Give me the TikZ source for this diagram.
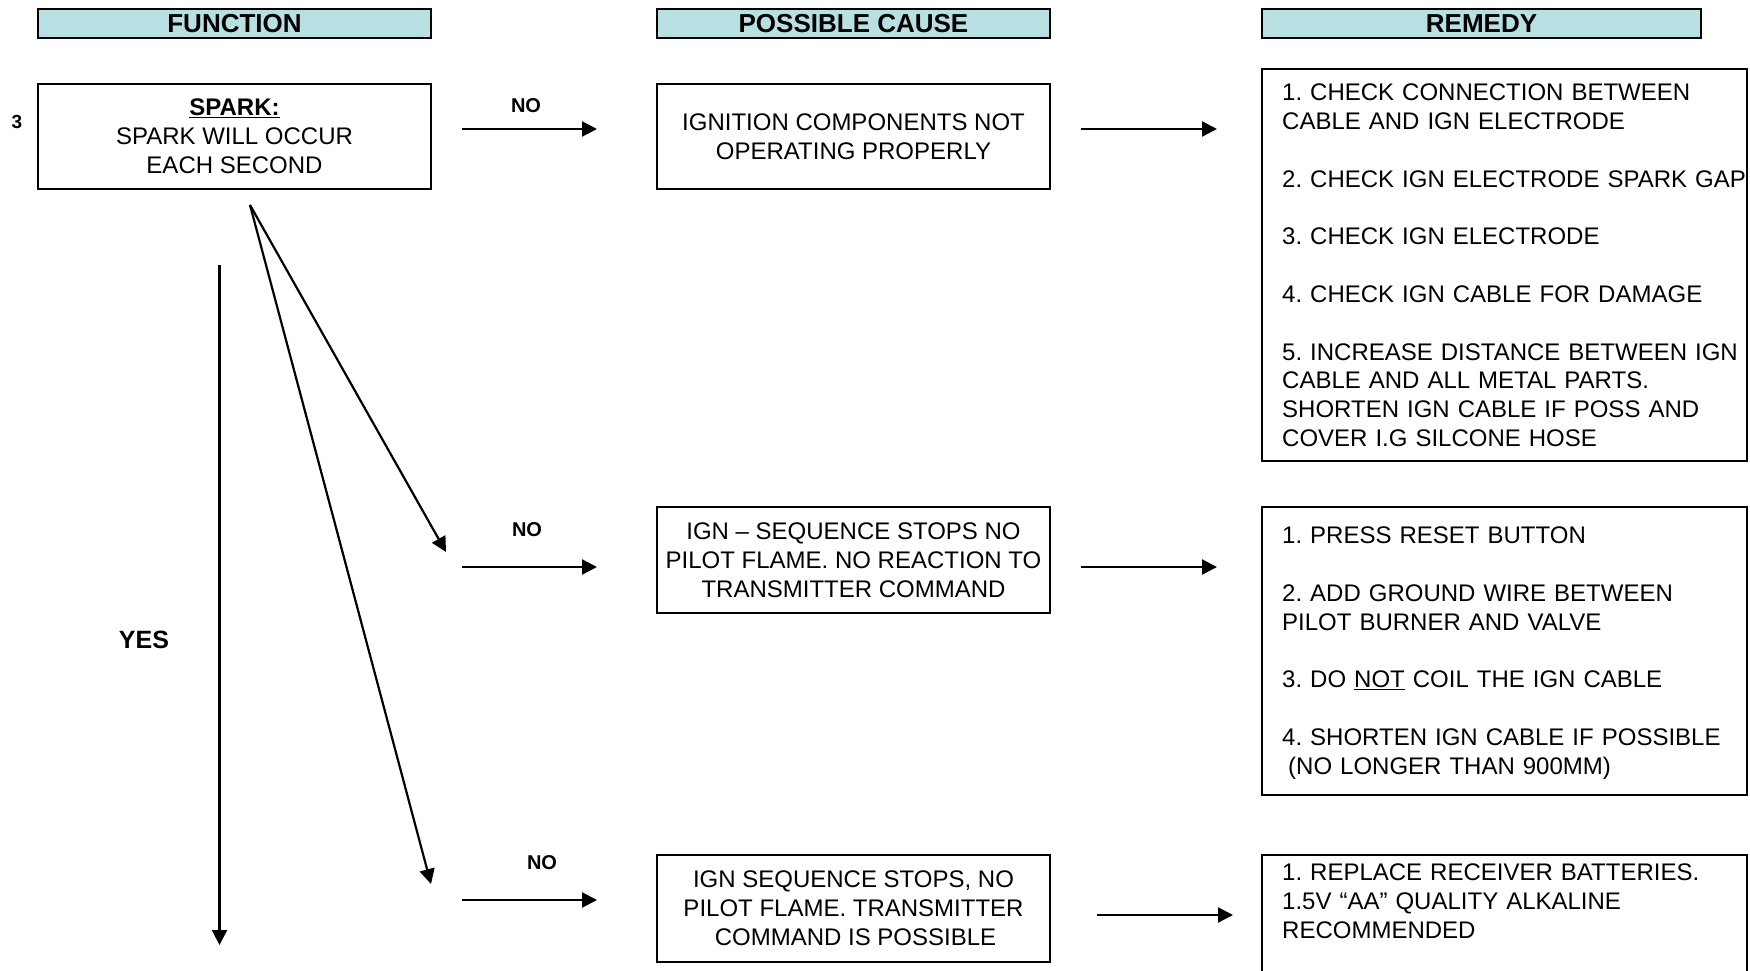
\documentclass[tikz,border=0pt]{standalone}
\usepackage{fontspec}
\setmainfont{Liberation Sans}
\usetikzlibrary{arrows.meta}
\definecolor{hdrfill}{RGB}{184,223,226}
\newcommand\myul[1]{\underline{#1}}
\frenchspacing
\begin{document}
\begin{tikzpicture}[x=1pt,y=-1pt,
  hdr/.style={draw, line width=1.6pt, fill=hdrfill, minimum height=29pt, inner sep=0pt, font=\fontsize{26}{30}\selectfont\bfseries},
  box/.style={draw, line width=1.6pt, inner sep=0pt, align=center, minimum width=393pt, font=\fontsize{24}{28.8}\selectfont},
  frame/.style={draw, line width=1.6pt, inner sep=0pt, minimum width=485pt},
  rtext/.style={anchor=north west, inner sep=0pt, align=left, text width=470pt, font=\fontsize{24}{28.8}\selectfont},
  lbl/.style={inner sep=0pt, font=\fontsize{20}{24}\selectfont\bfseries},
  arr/.style={line width=2.2pt, -{Triangle[length=15pt,width=15pt]}}
]
\useasboundingbox (0,0) rectangle (1750,971);

% headers
\node[hdr, minimum width=393pt] (hfun) at (234.5,23.5) {FUNCTION};
\node[hdr, minimum width=393pt] (hcause) at (853.5,23.5) {POSSIBLE CAUSE};
\node[hdr, minimum width=439pt] (hrem) at (1481.5,23.5) {REMEDY};

% function
\node[box, minimum height=105pt] (spark) at (234.5,136.5) {\myul{\textbf{SPARK:}}\\SPARK WILL OCCUR\\EACH SECOND};
\node[inner sep=0pt, font=\fontsize{19}{22}\selectfont\bfseries] (num) at (17,122) {3};

% causes
\node[box, minimum height=105pt] (cause1) at (853.5,136.5) {IGNITION COMPONENTS NOT\\OPERATING PROPERLY};
\node[box, minimum height=106pt] (cause2) at (853.5,560) {IGN – SEQUENCE STOPS NO\\PILOT FLAME. NO REACTION TO\\TRANSMITTER COMMAND};
\node[box, minimum height=107pt] (cause3) at (853.5,908.5) {IGN SEQUENCE STOPS, NO\\PILOT FLAME. TRANSMITTER\\\hspace*{4pt}COMMAND IS POSSIBLE};

% remedies
\node[frame, minimum height=392pt] (remedy1) at (1504.5,265) {};
\node[rtext] (remedy1txt) at (1282,84) {1. CHECK CONNECTION BETWEEN\\CABLE AND IGN ELECTRODE\\[28.8pt]2. CHECK IGN ELECTRODE SPARK GAP\\[28.8pt]3. CHECK IGN ELECTRODE\\[28.8pt]4. CHECK IGN CABLE FOR DAMAGE\\[28.8pt]5. INCREASE DISTANCE BETWEEN IGN\\CABLE AND ALL METAL PARTS.\\SHORTEN IGN CABLE IF POSS AND\\COVER I.G SILCONE HOSE};

\node[frame, minimum height=288pt] (remedy2) at (1504.5,651) {};
\node[rtext] (remedy2txt) at (1282,527) {1. PRESS RESET BUTTON\\[28.8pt]2. ADD GROUND WIRE BETWEEN\\PILOT BURNER AND VALVE\\[28.8pt]3. DO \myul{NOT} COIL THE IGN CABLE\\[28.8pt]4. SHORTEN IGN CABLE IF POSSIBLE\\\hspace*{6pt}(NO LONGER THAN 900MM)};

\draw[line width=1.6pt] (1262,971) -- (1262,855) -- (1747,855) -- (1747,971);
\node[rtext] (remedy3txt) at (1282,864) {1. REPLACE RECEIVER BATTERIES.\\1.5V “AA” QUALITY ALKALINE\\RECOMMENDED};

% labels
\node[lbl] (no1) at (526,106) {NO};
\node[lbl] (no2) at (527,530) {NO};
\node[lbl] (no3) at (542,863) {NO};
\node[inner sep=0pt, font=\fontsize{25}{30}\selectfont\bfseries] (yes) at (144,640) {YES};

% connector ends
\coordinate (fork) at (250,205);
\coordinate (tipA) at (446,552);
\coordinate (tipB) at (431,884);
\coordinate (yesS) at (219.5,265);
\coordinate (yesE) at (219.5,945);
\coordinate (n1s) at (462,129);
\coordinate (n1e) at (597,129);
\coordinate (n2s) at (462,567);
\coordinate (n2e) at (597,567);
\coordinate (n3s) at (462,900);
\coordinate (n3e) at (597,900);
\coordinate (r1s) at (1081,129);
\coordinate (r1e) at (1217,129);
\coordinate (r2s) at (1081,567);
\coordinate (r2e) at (1217,567);
\coordinate (r3s) at (1097,915);
\coordinate (r3e) at (1233,915);

\draw[arr] (fork) -- (tipA);
\draw[arr] (fork) -- (tipB);
\draw[arr] (yesS) -- (yesE);
\draw[arr] (n1s) -- (n1e);
\draw[arr] (n2s) -- (n2e);
\draw[arr] (n3s) -- (n3e);
\draw[arr] (r1s) -- (r1e);
\draw[arr] (r2s) -- (r2e);
\draw[arr] (r3s) -- (r3e);
\end{tikzpicture}
\end{document}
